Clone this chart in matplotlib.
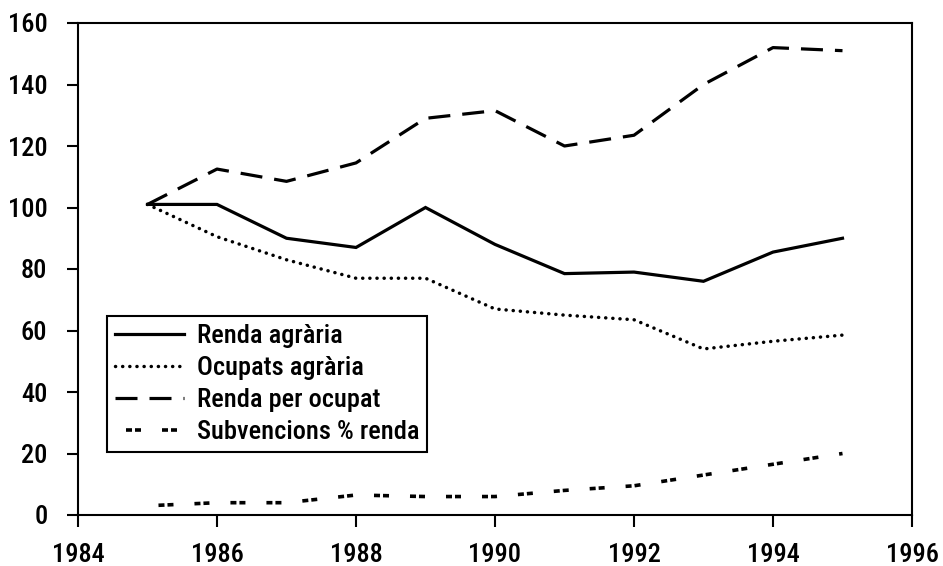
import matplotlib
matplotlib.use("Agg")
import matplotlib.pyplot as plt
from matplotlib import font_manager

years = [1985, 1986, 1987, 1988, 1989, 1990, 1991, 1992, 1993, 1994, 1995]
renda_agraria = [101, 101, 90, 87, 100, 88, 78.5, 79, 76, 85.5, 90]
ocupats_agraria = [101, 90.5, 83, 77, 77, 67, 65, 63.5, 54, 56.5, 58.5]
renda_per_ocupat = [101, 112.5, 108.5, 114.5, 129, 131.5, 120, 123.5, 140, 152, 151]
subvencions = [3, 4, 4, 6.5, 6, 6, 8, 9.5, 13, 16.5, 20]

labels = ["Renda agrària", "Ocupats agrària", "Renda per ocupat", "Subvencions % renda"]
xticks = [1984, 1986, 1988, 1990, 1992, 1994, 1996]
yticks = [0, 20, 40, 60, 80, 100, 120, 140, 160]

names = sorted({f.name for f in font_manager.fontManager.ttflist})
fam = "Liberation Sans"
for cand in ["Roboto Condensed", "Liberation Sans Narrow", "Open Sans Condensed", "Arial Narrow"]:
    if cand in names:
        fam = cand
        break
plt.rcParams['font.family'] = [fam, 'DejaVu Sans']
plt.rcParams['font.weight'] = 'medium'
plt.rcParams['lines.scale_dashes'] = False
fs = 19 if fam != "Liberation Sans" else 16.5

fig = plt.figure(figsize=(9.43, 5.66), dpi=100)
ax = fig.add_axes([78/943, 1-515/566, (912-78)/943, (515-23)/566])

px = 0.72  # points per pixel
lw = 2.3
ax.plot(years, renda_agraria, color='black', lw=lw, solid_joinstyle='miter', label=labels[0])
ax.plot(years, ocupats_agraria, color='black', lw=2.5,
        linestyle=(0, (0.1, 7*px)), dash_capstyle='round', label=labels[1])
ax.plot(years, renda_per_ocupat, color='black', lw=lw,
        linestyle=(0, (22*px, 12*px)), label=labels[2])
ax.plot(years, subvencions, color='black', lw=2.6,
        linestyle=(25*px, (6*px, 3*px, 6*px, 21*px)), label=labels[3])

ax.set_xlim(1984, 1996)
ax.set_ylim(0, 160)
ax.set_xticks(xticks)
ax.set_yticks(yticks)
ax.tick_params(axis='both', direction='out', width=1.5, labelsize=fs, colors='black')
ax.tick_params(axis='y', length=8, pad=14)
ax.tick_params(axis='x', length=8.5, pad=12)
for s in ax.spines.values():
    s.set_linewidth(1.5)
    s.set_color('black')

leg = ax.legend(loc='lower left', bbox_to_anchor=(0.035, 0.128), fontsize=fs,
                handlelength=2.6, handletextpad=0.5, labelspacing=0.3,
                borderpad=0.3, borderaxespad=0, fancybox=False, framealpha=1,
                edgecolor='black')
leg.get_frame().set_linewidth(1.5)

fig.savefig("out.png", dpi=100)
